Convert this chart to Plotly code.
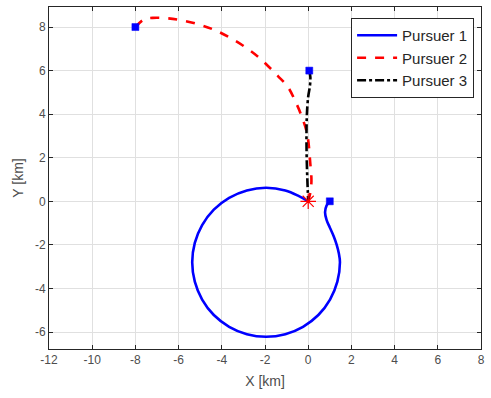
import plotly.graph_objects as go

# Pursuer trajectories (km)
p1_x = [1.0, 0.85, 0.78, 0.85, 1.0, 1.18, 1.32, 1.42, 1.47, 1.35, 1.01, 0.47, -0.24, -1.06, -1.95,
        -2.84, -3.66, -4.37, -4.91, -5.25, -5.37, -5.25, -4.91, -4.37, -3.66, -2.84, -1.95,
        -1.06, -0.45, 0.0]
p1_y = [0.0, -0.2, -0.5, -0.85, -1.2, -1.6, -2.0, -2.4, -2.8, -3.69, -4.51, -5.22, -5.76, -6.10, -6.22,
        -6.10, -5.76, -5.22, -4.51, -3.69, -2.8, -1.91, -1.09, -0.38, 0.16, 0.50, 0.62,
        0.50, 0.25, 0.0]

p2_x = [-8.0, -7.6, -7.2, -6.5, -5.8, -5.0, -4.3, -3.6, -2.9, -2.3, -1.85, -1.4, -0.94,
        -0.6, -0.34, -0.05, 0.1, 0.15, 0.1, 0.0]
p2_y = [8.0, 8.35, 8.42, 8.4, 8.3, 8.1, 7.85, 7.5, 7.07, 6.62, 6.2, 5.75, 5.25,
        4.6, 4.0, 3.1, 1.7, 0.94, 0.4, 0.0]

p3_x = [0.05, 0.1, 0.08, 0.0, -0.06, -0.08, -0.07, -0.04, 0.0]
p3_y = [6.0, 5.7, 5.3, 4.8, 4.0, 3.0, 2.0, 1.0, 0.0]

names = ["Pursuer 1", "Pursuer 2", "Pursuer 3"]
start_x = [p1_x[0], p2_x[0], p3_x[0]]
start_y = [p1_y[0], p2_y[0], p3_y[0]]
target_x = [0.0]
target_y = [0.0]

x_ticks = [-12, -10, -8, -6, -4, -2, 0, 2, 4, 6, 8]
y_ticks = [-6, -4, -2, 0, 2, 4, 6, 8]

fig = go.Figure()
fig.add_trace(go.Scatter(x=p1_x, y=p1_y, mode="lines", name=names[0],
                         line=dict(color="#0000FF", width=2.6), line_shape="spline"))
fig.add_trace(go.Scatter(x=p2_x, y=p2_y, mode="lines", name=names[1],
                         line=dict(color="#FF0000", width=2.6, dash="dash"), line_shape="spline"))
fig.add_trace(go.Scatter(x=p3_x, y=p3_y, mode="lines", name=names[2],
                         line=dict(color="#000000", width=2.6, dash="dashdot"), line_shape="spline"))
fig.add_trace(go.Scatter(x=start_x, y=start_y, mode="markers", showlegend=False,
                         marker=dict(symbol="square", size=7, color="#0000FF",
                                     line=dict(color="#0000FF", width=0.5))))
fig.add_trace(go.Scatter(x=target_x, y=target_y, mode="markers", showlegend=False,
                         marker=dict(symbol="asterisk-open", size=13, color="#FF0000",
                                     line=dict(color="#FF0000", width=1.2))))

axis_common = dict(showline=True, linecolor="#262626", linewidth=1, mirror="ticks",
                   ticks="inside", ticklen=4, tickcolor="#262626",
                   showgrid=True, gridcolor="#E0E0E0", gridwidth=1, zeroline=False,
                   tickfont=dict(family="Liberation Sans, Arial", size=12, color="#4D4D4D"))

fig.update_layout(
    width=491, height=398,
    margin=dict(l=49, r=6, t=7, b=49),
    paper_bgcolor="white", plot_bgcolor="white",
    font=dict(family="Liberation Sans, Arial", color="#262626"),
    xaxis=dict(range=[-12, 8], tickvals=x_ticks, ticktext=[str(v) for v in x_ticks],
               title=dict(text="X [km]", font=dict(size=14, color="#4D4D4D"), standoff=9),
               **axis_common),
    yaxis=dict(range=[-6.78, 8.92], tickvals=y_ticks, ticktext=[str(v) for v in y_ticks],
               title=dict(text="Y [km]", font=dict(size=14, color="#4D4D4D"), standoff=8),
               **axis_common),
    legend=dict(x=0.984, y=0.968, xanchor="right", yanchor="top",
                bgcolor="white", bordercolor="#262626", borderwidth=1,
                font=dict(family="Liberation Sans, Arial", size=15, color="#262626"),
                tracegroupgap=0, itemwidth=40),
    showlegend=True,
)

fig.write_html("out.html")
